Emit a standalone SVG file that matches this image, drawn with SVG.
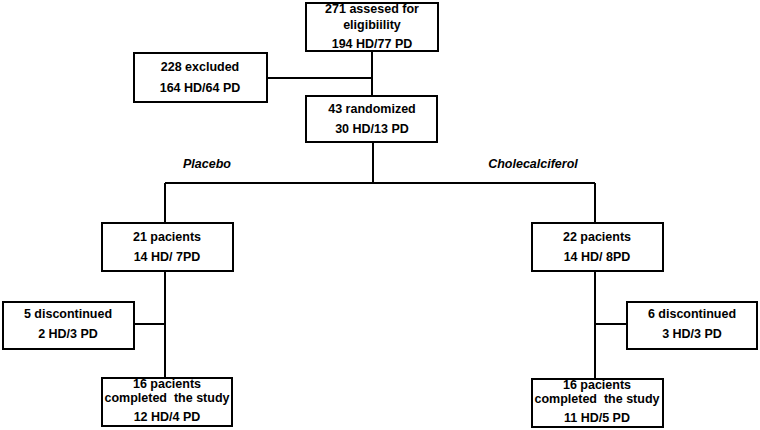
<svg xmlns="http://www.w3.org/2000/svg" width="760" height="430" viewBox="0 0 760 430">
<style>
.box{fill:#fff;stroke:#000;stroke-width:2}
.ln{stroke:#000;stroke-width:2;fill:none}
text{font-family:"Liberation Sans",Arial,sans-serif;font-weight:bold;font-size:12.5px;fill:#000;text-anchor:middle;white-space:pre}
.lbl{font-style:italic}
</style>
<rect width="760" height="430" fill="#fff"/>
<g id="connectors">
<path class="ln" d="M372 51V96M267 78H372M373 142V183M165 183H595M165 183V223M595 183V223M165 271V378M134 324H165M595 271V379M595 324H627"/>
</g>
<g id="n-assessed"><rect class="box" x="306" y="3" width="132" height="48"/>
<text x="372" y="13">271 assesed for</text><text x="372" y="29">eligibiility</text><text x="372" y="48">194 HD/77 PD</text></g>
<g id="n-excluded"><rect class="box" x="134" y="53" width="133" height="49"/>
<text x="200" y="71">228 excluded</text><text x="200" y="92">164 HD/64 PD</text></g>
<g id="n-randomized"><rect class="box" x="306" y="96" width="131" height="46"/>
<text x="372" y="113">43 randomized</text><text x="372" y="133">30 HD/13 PD</text></g>
<text class="lbl" x="207" y="168">Placebo</text>
<text class="lbl" x="533" y="168">Cholecalciferol</text>
<g id="n-placebo"><rect class="box" x="102" y="223" width="131" height="48"/>
<text x="167" y="241">21 pacients</text><text x="167" y="261">14 HD/ 7PD</text></g>
<g id="n-chole"><rect class="box" x="532" y="223" width="131" height="48"/>
<text x="597" y="241">22 pacients</text><text x="597" y="261">14 HD/ 8PD</text></g>
<g id="n-disc1"><rect class="box" x="3" y="302" width="131" height="47"/>
<text x="68" y="318">5 discontinued</text><text x="68" y="338">2 HD/3 PD</text></g>
<g id="n-disc2"><rect class="box" x="627" y="302" width="130" height="47"/>
<text x="692" y="318">6 discontinued</text><text x="692" y="338">3 HD/3 PD</text></g>
<g id="n-comp1"><rect class="box" x="102" y="378" width="130" height="48"/>
<text x="167" y="388">16 pacients</text><text x="167" y="402" xml:space="preserve">completed  the study</text><text x="167" y="421">12 HD/4 PD</text></g>
<g id="n-comp2"><rect class="box" x="532" y="379" width="131" height="48"/>
<text x="597" y="389">16 pacients</text><text x="597" y="403" xml:space="preserve">completed  the study</text><text x="597" y="422">11 HD/5 PD</text></g>
</svg>
